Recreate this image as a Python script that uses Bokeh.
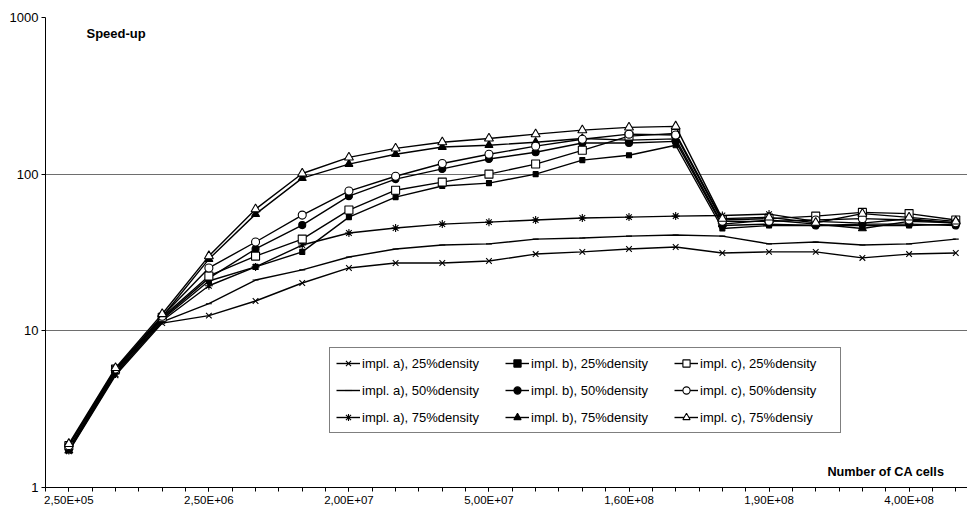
from bokeh.plotting import figure
from bokeh.models import Range1d, FixedTicker, Legend, LegendItem, Label
from bokeh.embed import file_html
from bokeh.resources import INLINE

# ---- data ----
n_points = 20
x_idx = list(range(n_points))
tick_positions = [0, 3, 6, 9, 12, 15, 18]
tick_labels = ["2,50E+05", "2,50E+06", "2,00E+07", "5,00E+07", "1,60E+08", "1,90E+08", "4,00E+08"]
y_ticks = [1, 10, 100, 1000]
y_tick_labels = ["1", "10", "100", "1000"]

a25 = [1.70, 5.2, 11.2, 12.5, 15.5, 20.2, 25.2, 27.1, 27.1, 27.9, 30.9, 31.9, 33.3, 34.3, 31.4, 31.9, 31.9, 29.2, 30.9, 31.4]
a50 = [1.75, 5.4, 11.4, 14.9, 21.1, 24.5, 29.6, 33.3, 35.3, 35.9, 38.5, 39.1, 40.2, 40.9, 40.2, 35.9, 36.9, 35.3, 35.9, 38.5]
a75 = [1.72, 5.3, 11.6, 19.4, 25.6, 35.3, 42.1, 45.3, 48.0, 49.4, 51.0, 52.5, 53.2, 54.0, 54.5, 55.6, 50.0, 48.7, 51.9, 48.7]
b25 = [1.75, 5.5, 11.8, 20.8, 25.6, 31.9, 53.2, 71.4, 84.0, 87.7, 100, 123, 132, 153, 45, 47, 47, 47, 47, 48]
b50 = [1.78, 5.6, 12.0, 21.7, 33.3, 47.3, 72.4, 93, 108, 125, 138, 158, 158, 162, 47, 48, 47, 48, 48, 47]
b75 = [1.72, 5.6, 12.3, 28.7, 55.6, 94.3, 116, 134, 149, 153, 160, 169, 165, 168, 48, 51, 48, 45, 50, 49]
c25 = [1.85, 5.7, 12.2, 22.4, 30.0, 38.5, 59, 79, 89, 100, 116, 142, 175, 182, 51, 52, 54, 57, 56, 51]
c50 = [1.85, 5.7, 12.4, 25.2, 36.9, 54.8, 78, 97, 117, 134, 151, 167, 180, 178, 50, 50, 51, 52, 51, 49]
c75 = [1.90, 5.8, 12.8, 30.0, 59.8, 101, 128, 146, 160, 169, 180, 191, 199, 202, 52, 53, 49, 56, 53, 50]

series = [
    ("impl. a), 25%density", a25, "x", 8, "black"),
    ("impl. a), 50%density", a50, "dash", 6, "black"),
    ("impl. a), 75%density", a75, "asterisk", 8, "black"),
    ("impl. b), 25%density", b25, "square", 5, "black"),
    ("impl. b), 50%density", b50, "circle", 7, "black"),
    ("impl. b), 75%density", b75, "triangle", 8, "black"),
    ("impl. c), 25%density", c25, "square", 8, "white"),
    ("impl. c), 50%density", c50, "circle", 8, "white"),
    ("impl. c), 75%densiy", c75, "triangle", 9, "white"),
]

FONT = "Liberation Sans"

p = figure(width=967, height=509, y_axis_type="log",
           x_range=Range1d(-0.5, -0.5 + (967 - 45) / 46.68),
           y_range=Range1d(1, 1000),
           output_backend="svg", toolbar_location=None,
           min_border_left=45, min_border_top=17, min_border_bottom=22, min_border_right=0)
p.outline_line_color = None
p.background_fill_color = "white"
p.border_fill_color = "white"

# grid
p.xgrid.grid_line_color = None
p.ygrid.grid_line_color = "#6e6e6e"
p.ygrid.grid_line_width = 1
p.ygrid.ticker = FixedTicker(ticks=y_ticks, minor_ticks=[])

# axes
p.yaxis.ticker = FixedTicker(ticks=y_ticks, minor_ticks=[])
p.yaxis.major_label_overrides = {t: l for t, l in zip(y_ticks, y_tick_labels)}
p.xaxis.ticker = FixedTicker(ticks=tick_positions,
                             minor_ticks=[i * 0.5 - 0.5 for i in range(2 * n_points + 1)])
p.xaxis.major_label_overrides = {t: l for t, l in zip(tick_positions, tick_labels)}
for ax in (p.xaxis[0], p.yaxis[0]):
    ax.axis_line_color = "black"
    ax.axis_line_width = 1
    ax.major_tick_line_color = "black"
    ax.minor_tick_line_color = "black"
    ax.major_tick_in = 0
    ax.major_tick_out = 4
    ax.minor_tick_in = 0
    ax.minor_tick_out = 4
    ax.major_label_text_font = FONT
    ax.major_label_text_color = "black"
    ax.major_label_standoff = 3
p.xaxis.major_label_text_font_size = "11.5px"
p.yaxis.major_label_text_font_size = "13px"
p.yaxis.minor_tick_out = 0
p.xaxis.major_label_standoff = 2

items = []
for label, ys, marker, size, fill in series:
    rl = p.line(x_idx, ys, line_color="black", line_width=1.4)
    rm = p.scatter(x_idx, ys, marker=marker, size=size, line_color="black",
                   fill_color=fill, line_width=1.1)
    items.append(LegendItem(label=label, renderers=[rl, rm]))

legend = Legend(items=items, location=(284, 54), orientation="vertical", nrows=3,
                border_line_color="black", border_line_width=1,
                background_fill_color="white", background_fill_alpha=1,
                label_text_font=FONT, label_text_font_size="13px",
                label_text_color="black",
                glyph_width=24, glyph_height=18, label_height=18,
                label_width=134, label_standoff=2,
                spacing=9, padding=6, margin=0)
p.add_layout(legend)

p.add_layout(Label(x=0.378, y=790, text="Speed-up", text_font=FONT,
                   text_font_style="bold", text_font_size="13px",
                   text_baseline="middle", text_color="black"))
p.add_layout(Label(x=16.25, y=1.265, text="Number of CA cells", text_font=FONT,
                   text_font_style="bold", text_font_size="12.7px",
                   text_baseline="middle", text_color="black"))

open("out.html", "w").write(file_html(p, INLINE))
